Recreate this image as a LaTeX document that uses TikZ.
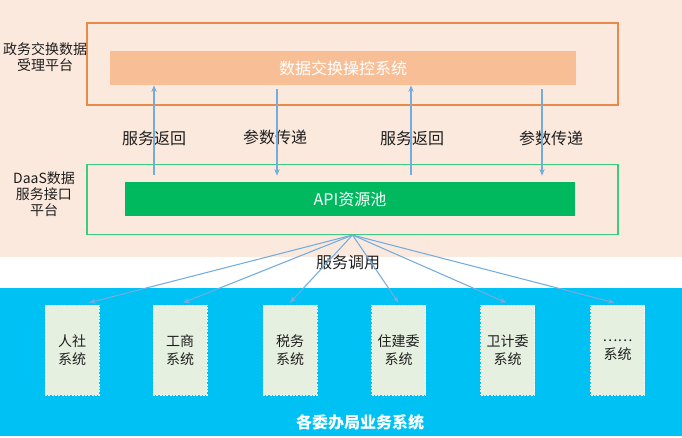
\documentclass[tikz,border=0pt]{standalone}
\usepackage{fontspec}
\setmainfont{Noto Sans CJK SC}
\usetikzlibrary{arrows.meta, calc}
\definecolor{peachBg}{HTML}{FCE9DD}
\definecolor{peachFill}{HTML}{F8BF96}
\definecolor{orangeLine}{HTML}{E88A48}
\definecolor{greenLine}{HTML}{3CCB80}
\definecolor{greenFill}{HTML}{00B95F}
\definecolor{skyBlue}{HTML}{00C1F3}
\definecolor{sysFill}{HTML}{E6F0E1}
\definecolor{flowBlue}{HTML}{74ACDD}
\definecolor{inkGray}{HTML}{1E1E1E}

\begin{document}
\begin{tikzpicture}[x=0.75pt, y=-0.75pt, font=\fontsize{12}{14}\selectfont, text=inkGray,
		flow/.style={draw=flowBlue, line width=0.8pt, -{Stealth[length=5pt, width=4pt]}},
		sysbox/.style={draw=white!65!sysFill, dash pattern=on 1.5pt off 1pt, fill=sysFill, minimum width=40.5pt, minimum height=67.5pt, inner sep=0pt, align=center, font=\fontsize{10.5}{13}\selectfont},
		sidelabel/.style={align=center, font=\fontsize{10.5}{12}\selectfont}]
		\useasboundingbox (0,0) rectangle (682,437);
		%%%%%%%%%%%%%
		\fill [peachBg] (0,0) rectangle (682,257);
		\fill [skyBlue] (0,288) rectangle (682,436);
		%%%%%%%%%%%%%
		\node (accept) [draw=orangeLine, line width=0.8pt, minimum width=398.25pt, minimum height=61.5pt] at (352.5,64) {};
		\node (ctrl) [fill=peachFill, text=white, minimum width=349.5pt, minimum height=25.5pt] at (343,68) {数据交换操控系统};
		\node (daas) [draw=greenLine, line width=0.8pt, minimum width=398.25pt, minimum height=52.5pt] at (352.5,199.5) {};
		\node (pool) [fill=greenFill, text=white, minimum width=337.5pt, minimum height=25.5pt] at (350,199) {API资源池};
		\node (acceptLbl) [sidelabel] at (45,57) {政务交换数据\\受理平台};
		\node (daasLbl) [sidelabel] at (44,194) {DaaS数据\\服务接口\\平台};
		%%%%%%%%%%%%%
		\node (ret1) at (154,138) {服务返回};
		\node (par1) at (275,137) {参数传递};
		\node (ret2) at (412,138) {服务返回};
		\node (par2) at (551,138) {参数传递};
		\draw [flow] ($(pool.north -| 154,0)+(0,-7)$) to (ctrl.south -| 154,0);
		\draw [flow] ($(ctrl.south -| 277,0)+(0,4)$) to ($(pool.north -| 277,0)+(0,-6)$);
		\draw [flow] ($(pool.north -| 411,0)+(0,-7)$) to (ctrl.south -| 411,0);
		\draw [flow] ($(ctrl.south -| 542,0)+(0,4)$) to ($(pool.north -| 542,0)+(0,-6)$);
		%%%%%%%%%%%%%%%%%%%%%%
		\node (sys1) [sysbox] at (72,350) {人社\\系统};
		\node (sys2) [sysbox] at (180,350) {工商\\系统};
		\node (sys3) [sysbox] at (290,350) {税务\\系统};
		\node (sys4) [sysbox] at (398.5,350) {住建委\\系统};
		\node (sys5) [sysbox] at (507.5,350) {卫计委\\系统};
		\node (sys6) [sysbox] at (617.5,350) {……\\系统};
		\node (call) at (348,262) {服务调用};
		\node (bureaus) [text=white, font=\fontsize{12}{14}\selectfont\bfseries] at (360,422) {各委办局业务系统};
		\draw [flow] (daas.south) to ([xshift=12.75pt, yshift=1.5pt]sys1.north);
		\draw [flow] (daas.south) to ([xshift=2.25pt, yshift=1.5pt]sys2.north);
		\draw [flow] (daas.south) to ([yshift=1.5pt]sys3.north);
		\draw [flow] (daas.south) to ([yshift=1.5pt]sys4.north);
		\draw [flow] (daas.south) to ([xshift=-0.75pt, yshift=1.5pt]sys5.north);
		\draw [flow] (daas.south) to ([xshift=-2.25pt, yshift=1.5pt]sys6.north);
\end{tikzpicture}
\end{document}
